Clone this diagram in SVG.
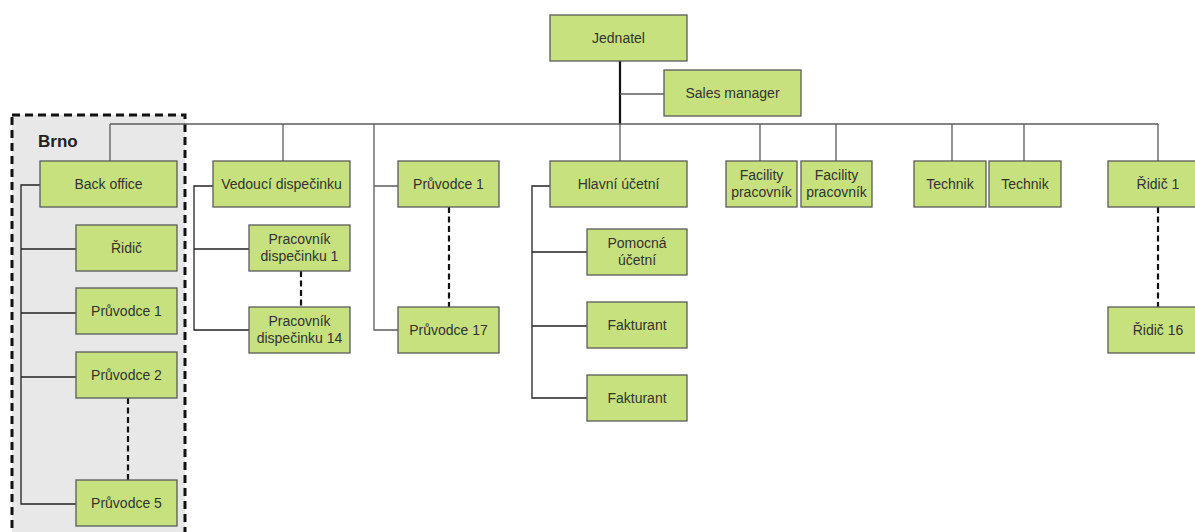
<svg xmlns="http://www.w3.org/2000/svg" width="1195" height="532" viewBox="0 0 1195 532">
  <style>
    .node rect { fill: #c6e17d; stroke: #5a5a5a; stroke-width: 1.3; }
    .node text { font-family: "Liberation Sans", Arial, sans-serif; font-size: 14px; fill: #333; text-anchor: middle; }
    .ln { fill: none; stroke: #5c5c5c; stroke-width: 1.3; }
    .dk { fill: none; stroke: #222; stroke-width: 1.3; }
    .dash { fill: none; stroke: #111; stroke-width: 2.2; stroke-dasharray: 6 3.5; }
  </style>
  <rect width="1195" height="532" fill="#fff"/>

  <!-- Brno branch group frame -->
  <g id="brno-frame">
    <rect x="12" y="115" width="173" height="430" fill="#e8e8e8" stroke="#111" stroke-width="3" stroke-dasharray="8 5"/>
    <text x="38" y="147" font-family="Liberation Sans, Arial, sans-serif" font-size="17" font-weight="bold" fill="#222">Brno</text>
  </g>

  <g id="connectors">
    <!-- Jednatel trunk -->
    <path d="M620 61 V124" stroke="#111" stroke-width="2.2" fill="none"/>
    <path class="ln" d="M620 94 H664"/>
    <!-- main bus -->
    <path class="ln" d="M110 124 H1158"/>
    <path class="ln" d="M110 124 V161 M283 124 V161 M374 124 V330 H398 M374 186 H398 M620 124 V161 M760 124 V161 M836 124 V161 M952 124 V161 M1024 124 V161 M1158 124 V161"/>
    <!-- Brno -->
    <path class="dk" d="M40 185 H21 V504 H76 M21 249 H76 M21 313 H76 M21 377 H76"/>
    <path class="dash" d="M128 398 V480"/>
    <!-- dispečink -->
    <path class="dk" d="M213 186 H194 V330 H249 M194 249 H249"/>
    <path class="dash" d="M301 271 V307"/>
    <!-- průvodci -->
    <path class="dash" d="M449 207 V307"/>
    <!-- účtárna -->
    <path class="dk" d="M550 186 H532 V398 H587 M532 252 H587 M532 326 H587"/>
    <!-- řidiči -->
    <path class="dash" d="M1158 207 V307"/>
  </g>

  <g id="jednatel" class="node"><rect x="550" y="15" width="137" height="46"/><text x="618.5" y="43">Jednatel</text></g>
  <g id="sales-manager" class="node"><rect x="664" y="70" width="137" height="46"/><text x="732.5" y="98">Sales manager</text></g>

  <g id="back-office" class="node"><rect x="40" y="161" width="137" height="46"/><text x="108.5" y="189">Back office</text></g>
  <g id="brno-ridic" class="node"><rect x="76" y="225" width="101" height="46"/><text x="126.5" y="253">Řidič</text></g>
  <g id="brno-pruvodce-1" class="node"><rect x="76" y="288" width="101" height="46"/><text x="126.5" y="316">Průvodce 1</text></g>
  <g id="brno-pruvodce-2" class="node"><rect x="76" y="352" width="101" height="46"/><text x="126.5" y="380">Průvodce 2</text></g>
  <g id="brno-pruvodce-5" class="node"><rect x="76" y="480" width="101" height="46"/><text x="126.5" y="508">Průvodce 5</text></g>

  <g id="vedouci-dispecinku" class="node"><rect x="213" y="161" width="137" height="46"/><text x="281.5" y="189">Vedoucí dispečinku</text></g>
  <g id="pracovnik-dispecinku-1" class="node"><rect x="249" y="225" width="101" height="46"/><text x="299.5" y="244">Pracovník</text><text x="299.5" y="261">dispečinku 1</text></g>
  <g id="pracovnik-dispecinku-14" class="node"><rect x="249" y="307" width="101" height="46"/><text x="299.5" y="326">Pracovník</text><text x="299.5" y="343">dispečinku 14</text></g>

  <g id="pruvodce-1" class="node"><rect x="398" y="161" width="101" height="46"/><text x="448.5" y="189">Průvodce 1</text></g>
  <g id="pruvodce-17" class="node"><rect x="398" y="307" width="101" height="46"/><text x="448.5" y="335">Průvodce 17</text></g>

  <g id="hlavni-ucetni" class="node"><rect x="550" y="161" width="137" height="46"/><text x="618.5" y="189">Hlavní účetní</text></g>
  <g id="pomocna-ucetni" class="node"><rect x="587" y="229" width="100" height="46"/><text x="637" y="248">Pomocná</text><text x="637" y="265">účetní</text></g>
  <g id="fakturant-1" class="node"><rect x="587" y="302" width="100" height="46"/><text x="637" y="330">Fakturant</text></g>
  <g id="fakturant-2" class="node"><rect x="587" y="375" width="100" height="46"/><text x="637" y="403">Fakturant</text></g>

  <g id="facility-1" class="node"><rect x="726" y="161" width="71" height="46"/><text x="761.5" y="180">Facility</text><text x="761.5" y="197">pracovník</text></g>
  <g id="facility-2" class="node"><rect x="801" y="161" width="71" height="46"/><text x="836.5" y="180">Facility</text><text x="836.5" y="197">pracovník</text></g>

  <g id="technik-1" class="node"><rect x="914" y="161" width="72" height="46"/><text x="950" y="189">Technik</text></g>
  <g id="technik-2" class="node"><rect x="989" y="161" width="72" height="46"/><text x="1025" y="189">Technik</text></g>

  <g id="ridic-1" class="node"><rect x="1108" y="161" width="100" height="46"/><text x="1158" y="189">Řidič 1</text></g>
  <g id="ridic-16" class="node"><rect x="1108" y="307" width="100" height="46"/><text x="1158" y="335">Řidič 16</text></g>
</svg>
